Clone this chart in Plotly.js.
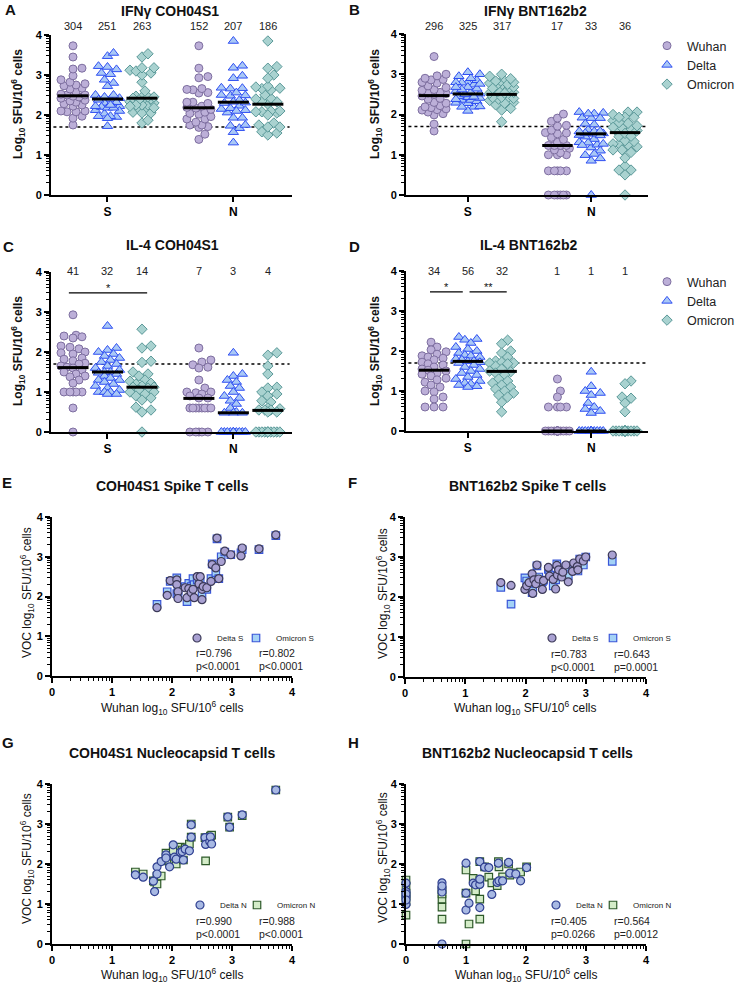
<!DOCTYPE html>
<html>
<head>
<meta charset="utf-8">
<script src="https://cdn.plot.ly/plotly-3.0.1.min.js"></script>
<style>
  html, body { margin: 0; padding: 0; background: #fff; }
  #fig { width: 736px; height: 983px; }
</style>
</head>
<body>
<div id="fig"></div>
<script>
// ---- data: IFNγ, COH04S1 (paired per donor, used by A, E and G) ----
const cohWuhanS   = [1.75,1.92,1.97,2.08,2.08,2.10,2.10,2.22,2.25,2.28,2.32,2.35,2.37,2.42,2.45,2.47,2.50,2.50,2.52,2.58,2.65,2.67,2.73,2.75,2.78,2.82,2.88,2.98,3.15,3.17,3.45,3.73];
const cohDeltaS   = [1.72,2.03,2.40,2.42,2.30,2.12,1.95,2.22,1.97,2.20,2.10,2.18,1.97,2.50,2.32,2.50,1.92,2.18,2.25,2.22,2.38,2.80,2.72,3.47,2.45,2.88,3.14,3.05,3.02,3.22,3.20,3.55];
const cohOmicronS = [1.80,2.12,2.38,2.47,2.07,2.15,2.05,2.25,1.87,2.33,2.25,2.45,2.30,2.42,2.40,2.38,2.05,2.25,2.22,2.18,2.45,2.82,2.60,3.45,2.45,3.00,3.12,3.05,3.10,3.18,3.18,3.53];
const cohWuhanN   = [1.39,1.52,1.69,1.71,1.75,1.75,1.82,1.90,1.90,1.96,2.02,2.04,2.07,2.14,2.17,2.19,2.22,2.29,2.32,2.32,2.55,2.56,2.63,2.64,2.66,2.93,2.96,3.17,3.73];
const cohDeltaN   = [1.73,1.67,1.57,1.31,1.93,1.75,2.06,2.23,2.15,1.93,2.48,2.17,2.12,2.30,2.31,2.10,2.37,2.33,2.98,2.67,2.66,2.49,2.56,2.68,2.50,3.18,2.92,3.23,3.85];
const cohOmicronN = [1.80,1.75,1.58,1.55,1.50,1.70,1.70,2.27,2.08,2.05,2.33,2.10,2.00,2.42,2.35,2.10,2.40,2.50,3.00,2.67,2.66,2.08,2.62,2.70,2.72,3.17,2.92,3.21,3.85];

// ---- data: IFNγ, BNT162b2 (paired per donor, used by B, F and H) ----
const bntWuhanS   = [1.59,1.76,1.99,2.02,2.06,2.11,2.12,2.14,2.17,2.19,2.22,2.28,2.30,2.38,2.40,2.46,2.50,2.52,2.53,2.55,2.60,2.62,2.67,2.71,2.78,2.80,2.86,2.87,2.90,2.96,3.00,3.44];
const bntDeltaS   = [2.36,2.29,2.19,2.28,2.36,2.58,2.09,2.43,2.33,2.80,2.45,2.19,2.41,2.74,2.52,2.44,2.20,2.79,2.55,2.68,2.50,2.62,2.80,2.38,2.64,2.85,2.76,2.68,2.95,2.90,3.00,3.05];
const bntOmicronS = [2.24,1.82,2.48,2.40,2.30,2.11,2.15,2.35,2.40,2.78,2.50,2.38,2.42,2.69,2.55,2.28,2.43,2.83,2.53,2.62,2.58,2.68,2.75,2.53,2.78,2.70,2.83,2.65,2.95,2.80,3.00,2.89];
const bntWuhanN   = [0,0,0,0,0,0,0.6,0.6,0.6,0.6,0.6,1.0,1.0,1.0,1.05,1.12,1.16,1.23,1.23,1.23,1.23,1.31,1.38,1.43,1.52,1.54,1.55,1.61,1.71,1.73,1.83,1.91,2.01];
const bntDeltaN   = [1.52,1.31,1.18,0.99,1.25,1.10,1.53,1.39,0.0,1.30,1.45,2.02,1.27,0.85,1.02,1.52,1.48,2.06,1.49,1.62,0.91,1.92,1.91,1.24,1.54,2.02,1.58,1.58,2.04,1.77,1.75,1.58,1.91];
const bntOmicronN = [1.60,1.27,1.06,0.72,1.45,1.20,1.12,0.92,0.62,1.25,1.35,1.85,1.27,0.0,0.50,1.64,1.33,2.06,1.12,0.62,1.60,1.93,1.67,1.53,1.46,2.06,1.93,1.68,2.00,1.72,1.78,1.80,1.93];

// ---- data: IL-4 ----
const il4CohWuhanS   = [2.93,2.42,2.40,2.38,2.35,2.15,2.12,2.08,2.00,1.98,1.95,1.85,1.82,1.78,1.72,1.70,1.65,1.62,1.60,1.55,1.50,1.45,1.40,1.38,1.30,1.22,1.0,1.0,1.0,1.0,1.0,0.6,0];
const il4CohDeltaS   = [2.65,2.10,2.05,2.00,1.95,1.90,1.85,1.80,1.75,1.70,1.65,1.60,1.55,1.50,1.50,1.48,1.45,1.40,1.35,1.30,1.30,1.25,1.20,1.15,1.10,1.05,1.0,1.0,1.0,0.95,0.95];
const il4CohOmicronS = [2.57,2.15,2.10,1.77,1.74,1.50,1.45,1.40,1.30,1.27,1.22,1.20,1.15,1.12,1.12,1.10,1.05,1.0,1.0,0.95,0.90,0.85,0.80,0.62,0.55,0.50,0];
const il4CohWuhanN   = [2.10,1.80,1.75,1.68,1.62,1.60,1.30,1.10,1.0,1.0,0.98,0.95,0.90,0.85,0.85,0.6,0.6,0.6,0.6,0.6,0.6,0.6,0.6,0,0,0,0,0];
const il4CohDeltaN   = [1.98,1.45,1.40,1.30,1.25,1.15,1.10,1.0,0.90,0.85,0.78,0.70,0.60,0.50,0.48,0.48,0.48,0,0,0,0,0,0,0,0,0,0,0,0];
const il4CohOmicronN = [1.98,1.92,1.65,1.45,1.12,1.10,1.0,0.95,0.90,0.78,0.75,0.60,0.58,0.55,0.55,0.55,0.50,0.50,0,0,0,0,0,0,0,0,0,0,0];
const il4BntWuhanS   = [2.22,2.10,2.03,1.98,1.92,1.88,1.85,1.82,1.78,1.72,1.68,1.65,1.60,1.55,1.52,1.50,1.45,1.42,1.38,1.32,1.28,1.22,1.15,1.10,1.0,0.98,0.85,0.80,0.6,0.6,0.6];
const il4BntDeltaS   = [2.35,2.30,2.28,2.20,2.10,2.05,2.00,1.95,1.90,1.88,1.85,1.80,1.78,1.75,1.74,1.72,1.70,1.65,1.60,1.55,1.50,1.45,1.40,1.35,1.30,1.25,1.20,1.18,1.15,1.12,1.10];
const il4BntOmicronS = [2.27,2.18,2.00,1.95,1.85,1.75,1.72,1.70,1.70,1.68,1.62,1.55,1.50,1.48,1.45,1.40,1.30,1.25,1.20,1.15,1.10,1.05,1.0,0.95,0.90,0.85,0.72,0.48];
const il4BntWuhanN   = [1.30,1.0,0.85,0.6,0.6,0.6,0.6,0,0,0,0,0,0,0,0,0,0,0,0,0,0,0,0,0,0,0];
const il4BntDeltaN   = [1.48,1.12,1.0,0.95,0.90,0.70,0.60,0.55,0.50,0.45,0,0,0,0,0,0,0,0,0,0,0,0,0,0,0,0];
const il4BntOmicronN = [1.25,1.18,0.85,0.82,0.70,0.48,0,0,0,0,0,0,0,0,0,0,0,0,0,0,0,0,0,0,0,0];

// medians (black bars), order: Wuhan S, Delta S, Omicron S, Wuhan N, Delta N, Omicron N
const mediansA = [2.48, 2.40, 2.42, 2.18, 2.32, 2.27];
const mediansB = [2.47, 2.51, 2.50, 1.23, 1.52, 1.55];
const mediansC = [1.61, 1.50, 1.12, 0.84, 0.48, 0.54];
const mediansD = [1.52, 1.74, 1.49, 0, 0, 0];

// numbers printed over the columns
const countsA = [304, 251, 263, 152, 207, 186];
const countsB = [296, 325, 317, 17, 33, 36];
const countsC = [41, 32, 14, 7, 3, 4];
const countsD = [34, 56, 32, 1, 1, 1];

const variants = ['Wuhan', 'Delta', 'Omicron'];
const antigens = ['S', 'N'];
const detectionLimit = 1.7;
const sigLevel = 3.48;

// correlation text for E–H
const statsE = [['r=0.796', 'p&lt;0.0001'], ['r=0.802', 'p&lt;0.0001']];
const statsF = [['r=0.783', 'p&lt;0.0001'], ['r=0.643', 'p=0.0001']];
const statsG = [['r=0.990', 'p&lt;0.0001'], ['r=0.988', 'p&lt;0.0001']];
const statsH = [['r=0.405', 'p=0.0266'], ['r=0.564', 'p=0.0012']];

// ---- styling ----
const W = 736, H = 983;
const FONT = 'Liberation Sans, Arial, Helvetica, sans-serif';
const groupPos = [1, 2, 3, 4.65, 5.65, 6.65];
const dotStyle = [
    { symbol: 'circle',      size: 8, fill: '#bcafd8', edge: '#7d6e9f' },
    { symbol: 'triangle-up', size: 9, fill: '#a9c8f6', edge: '#2f4ff2' },
    { symbol: 'diamond',     size: 8, fill: '#a9d2d0', edge: '#5b9999' }
];
const spikeStyle = [
    { symbol: 'circle', size: 8, fill: '#a9a1d2', edge: '#3c3a58' },
    { symbol: 'square', size: 7.5, fill: '#a4d2f6', edge: '#3a56d8' }
];
const nucStyle = [
    { symbol: 'circle', size: 8, fill: '#a8b9e3', edge: '#2f3f90' },
    { symbol: 'square', size: 7.5, fill: '#d4ecc8', edge: '#2e5a2a' }
];

// minor ticks at log10(2..9) within each decade
const minorVals = [];
for (let d = 0; d < 4; d++) for (let k = 2; k <= 9; k++) minorVals.push(d + Math.log10(k));

const xk = i => i === 1 ? 'xaxis' : 'xaxis' + i;
const yk = i => i === 1 ? 'yaxis' : 'yaxis' + i;
const xr = i => i === 1 ? 'x' : 'x' + i;
const yr = i => i === 1 ? 'y' : 'y' + i;

const dotPanels = [
    { id: 1, letter: 'A', title: 'IFNγ COH04S1', legend: null,
      groups: [cohWuhanS, cohDeltaS, cohOmicronS, cohWuhanN, cohDeltaN, cohOmicronN],
      medians: mediansA, counts: countsA, bars: [],
      px: [51, 292], py: [35, 195], range: [0.362, 7.35], titleAt: [170, 11], letterAt: [10, 10], yTitleAt: [18, 104], countsY: 26 },
    { id: 2, letter: 'B', title: 'IFNγ BNT162b2', legend: 'legend',
      groups: [bntWuhanS, bntDeltaS, bntOmicronS, bntWuhanN, bntDeltaN, bntOmicronN],
      medians: mediansB, counts: countsB, bars: [],
      px: [406, 648], py: [34, 195], range: [0.17, 7.33], titleAt: [535, 11], letterAt: [354, 10], yTitleAt: [375, 104], countsY: 26 },
    { id: 3, letter: 'C', title: 'IL-4 COH04S1', legend: null,
      groups: [il4CohWuhanS, il4CohDeltaS, il4CohOmicronS, il4CohWuhanN, il4CohDeltaN, il4CohOmicronN],
      medians: mediansC, counts: countsC, bars: [{ a: 0, b: 2, text: '*' }],
      px: [51, 292], py: [272, 432], range: [0.362, 7.35], titleAt: [172, 245], letterAt: [8, 247], yTitleAt: [18, 351], countsY: 271 },
    { id: 4, letter: 'D', title: 'IL-4 BNT162b2', legend: 'legend2',
      groups: [il4BntWuhanS, il4BntDeltaS, il4BntOmicronS, il4BntWuhanN, il4BntDeltaN, il4BntOmicronN],
      medians: mediansD, counts: countsD, bars: [{ a: 0, b: 1, text: '*' }, { a: 1, b: 2, text: '**' }],
      px: [406, 648], py: [271, 431], range: [0.17, 7.33], titleAt: [528, 245], letterAt: [354, 247], yTitleAt: [375, 351], countsY: 271 }
];

// each correlation legend entry gets its own small legend box (markerAt = symbol centre)
const corrPanels = [
    { id: 5, letter: 'E', title: 'COH04S1 Spike T cells', legends: ['legend3', 'legend4'], style: spikeStyle,
      x: cohWuhanS, ys: [cohDeltaS, cohOmicronS], names: ['Delta S', 'Omicron S'], stats: statsE,
      px: [52, 292], py: [517, 676], titleAt: [172, 486], letterAt: [7, 483], yTitleAt: [27, 593], xTitleY: 708,
      markerAt: [[197, 638], [256, 638]], statsX: [194, 257] },
    { id: 6, letter: 'F', title: 'BNT162b2 Spike T cells', legends: ['legend5', 'legend6'], style: spikeStyle,
      x: bntWuhanS, ys: [bntDeltaS, bntOmicronS], names: ['Delta S', 'Omicron S'], stats: statsF,
      px: [405, 646], py: [517, 677], titleAt: [527, 486], letterAt: [352, 483], yTitleAt: [383, 593], xTitleY: 708,
      markerAt: [[552, 638], [613, 638]], statsX: [549, 612] },
    { id: 7, letter: 'G', title: 'COH04S1 Nucleocapsid T cells', legends: ['legend7', 'legend8'], style: nucStyle,
      x: cohWuhanN, ys: [cohDeltaN, cohOmicronN], names: ['Delta N', 'Omicron N'], stats: statsG,
      px: [52, 292], py: [784, 944], titleAt: [172, 753], letterAt: [8, 742], yTitleAt: [27, 859], xTitleY: 975,
      markerAt: [[200, 905], [257, 905]], statsX: [194, 257] },
    { id: 8, letter: 'H', title: 'BNT162b2 Nucleocapsid T cells', legends: ['legend9', 'legend10'], style: nucStyle,
      x: bntWuhanN, ys: [bntDeltaN, bntOmicronN], names: ['Delta N', 'Omicron N'], stats: statsH,
      px: [406, 646], py: [784, 944], titleAt: [527, 753], letterAt: [353, 742], yTitleAt: [383, 857], xTitleY: 975,
      markerAt: [[556, 905], [613, 905]], statsX: [549, 612] }
];

// spread the points of one column sideways so they don't sit on top of each other
function swarm(values, center, pxPerX, pxPerY) {
    const order = values.map((v, i) => i).sort((a, b) => values[a] - values[b]);
    const placed = [];
    const xs = new Array(values.length);
    const step = 3, maxOff = 12, gap = 6.5;
    for (const i of order) {
        const y = values[i] * pxPerY;
        let best = 0, bestDist = -1;
        for (let k = 0; k <= 2 * Math.floor(maxOff / step); k++) {
            const off = k === 0 ? 0 : (k % 2 ? 1 : -1) * Math.ceil(k / 2) * step;
            let minD = Infinity;
            for (const p of placed) minD = Math.min(minD, Math.hypot(p.x - off, p.y - y));
            if (minD >= gap) { best = off; break; }
            if (minD > bestDist) { bestDist = minD; best = off; }
        }
        placed.push({ x: best, y: y });
        xs[i] = center + best / pxPerX;
    }
    return xs;
}

const paperX = x => x / W;
const paperY = y => 1 - y / H;

function text(t, x, y, size, extra, weight) {
    return Object.assign({
        text: t, xref: 'paper', yref: 'paper', x: paperX(x), y: paperY(y),
        showarrow: false, xanchor: 'center', yanchor: 'middle',
        font: { family: FONT, size: size, color: '#111', weight: weight || 'normal' }
    }, extra || {});
}

function axisBase() {
    return {
        showline: true, linecolor: 'black', linewidth: 2, mirror: false,
        ticks: 'outside', ticklen: 5, tickwidth: 2, tickcolor: 'black',
        tickfont: { family: FONT, size: 11, color: 'black', weight: 'bold' },
        showgrid: false, zeroline: false, fixedrange: true
    };
}

const traces = [];
const shapes = [];
const annotations = [];
const layout = {
    width: W, height: H,
    // legends sit near the right edge; keep them from pushing the plot areas around
    margin: { l: 0, r: 0, t: 0, b: 0, autoexpand: false },
    paper_bgcolor: '#fff', plot_bgcolor: 'rgba(0,0,0,0)',
    showlegend: true, font: { family: FONT, color: '#111' }
};

// ---- dot plots A–D ----
dotPanels.forEach(p => {
    layout[xk(p.id)] = Object.assign(axisBase(), {
        domain: [paperX(p.px[0]), paperX(p.px[1])], range: p.range, anchor: yr(p.id),
        tickvals: [groupPos[1], groupPos[4]], ticktext: antigens,
        tickfont: { family: FONT, size: 12, color: 'black', weight: 'bold' }
    });
    layout[yk(p.id)] = Object.assign(axisBase(), {
        domain: [paperY(p.py[1]), paperY(p.py[0])], range: [0, 4], anchor: xr(p.id),
        tickvals: [0, 1, 2, 3, 4],
        minor: { tickmode: 'array', tickvals: minorVals, ticks: 'outside', ticklen: 3, tickwidth: 1, tickcolor: 'black' }
    });

    const pxPerX = (p.px[1] - p.px[0]) / (p.range[1] - p.range[0]);
    const pxPerY = (p.py[1] - p.py[0]) / 4;

    variants.forEach((name, v) => {
        const s = dotStyle[v];
        const xs = [], ys = [];
        [v, v + 3].forEach(g => {
            xs.push(...swarm(p.groups[g], groupPos[g], pxPerX, pxPerY));
            ys.push(...p.groups[g]);
        });
        const tr = {
            type: 'scatter', mode: 'markers', name: name, x: xs, y: ys,
            xaxis: xr(p.id), yaxis: yr(p.id), cliponaxis: false,
            marker: { symbol: s.symbol, size: s.size, color: s.fill, line: { color: s.edge, width: 1 } },
            showlegend: !!p.legend, hoverinfo: 'skip'
        };
        if (p.legend) tr.legend = p.legend;
        traces.push(tr);
    });

    // medians
    const mx = [], my = [];
    p.medians.forEach((m, g) => { mx.push(groupPos[g] - 0.45, groupPos[g] + 0.45, null); my.push(m, m, null); });
    traces.push({
        type: 'scatter', mode: 'lines', x: mx, y: my, xaxis: xr(p.id), yaxis: yr(p.id),
        line: { color: 'black', width: 3 }, showlegend: false, hoverinfo: 'skip'
    });

    // limit of detection
    shapes.push({
        type: 'line', xref: xr(p.id) + ' domain', yref: yr(p.id), x0: 0.01, x1: 0.99,
        y0: detectionLimit, y1: detectionLimit, layer: 'below',
        line: { color: 'black', width: 1.5, dash: 'dot' }
    });

    // significance bars
    p.bars.forEach(b => {
        const shareEnd = p.bars.some(o => o !== b && o.a === b.b);
        const shareStart = p.bars.some(o => o !== b && o.b === b.a);
        const x0 = groupPos[b.a] + (shareStart ? 0.05 : -0.12);
        const x1 = groupPos[b.b] + (shareEnd ? -0.15 : 0.15);
        shapes.push({
            type: 'line', xref: xr(p.id), yref: yr(p.id), x0: x0, x1: x1, y0: sigLevel, y1: sigLevel,
            line: { color: 'black', width: 1.2 }
        });
        annotations.push({
            text: b.text, xref: xr(p.id), yref: yr(p.id), x: (x0 + x1) / 2, y: sigLevel,
            yanchor: 'bottom', yshift: -3, showarrow: false, font: { family: FONT, size: 11, color: '#111' }
        });
    });

    p.counts.forEach((c, g) => {
        annotations.push({
            text: String(c), xref: xr(p.id), yref: 'paper', x: groupPos[g], y: paperY(p.countsY),
            showarrow: false, yanchor: 'middle', font: { family: FONT, size: 11, color: '#222' }
        });
    });

    annotations.push(text(p.title, p.titleAt[0], p.titleAt[1], 14, null, 'bold'));
    annotations.push(text(p.letter, p.letterAt[0], p.letterAt[1], 15, null, 'bold'));
    annotations.push(text('Log<sub>10</sub> SFU/10<sup>6</sup> cells', p.yTitleAt[0], p.yTitleAt[1], 12, { textangle: -90 }, 'bold'));
});

// legends for B and D (symbol lands ~20 px right of x)
layout.legend = {
    x: paperX(647), y: paperY(31), xanchor: 'left', yanchor: 'top',
    font: { family: FONT, size: 12.5, color: '#222' }, bgcolor: 'rgba(0,0,0,0)', itemclick: false
};
layout.legend2 = Object.assign({}, layout.legend, { y: paperY(267) });

// ---- correlation plots E–H ----
corrPanels.forEach(p => {
    layout[xk(p.id)] = Object.assign(axisBase(), {
        domain: [paperX(p.px[0]), paperX(p.px[1])], range: [0, 4], anchor: yr(p.id),
        tickvals: [0, 1, 2, 3, 4],
        minor: { tickmode: 'array', tickvals: minorVals, ticks: 'outside', ticklen: 3, tickwidth: 1, tickcolor: 'black' }
    });
    layout[yk(p.id)] = Object.assign(axisBase(), {
        domain: [paperY(p.py[1]), paperY(p.py[0])], range: [0, 4], anchor: xr(p.id),
        tickvals: [0, 1, 2, 3, 4],
        minor: { tickmode: 'array', tickvals: minorVals, ticks: 'outside', ticklen: 3, tickwidth: 1, tickcolor: 'black' }
    });

    // squares first so the circles sit on top
    [1, 0].forEach(k => {
        const s = p.style[k];
        traces.push({
            type: 'scatter', mode: 'markers', name: p.names[k], x: p.x, y: p.ys[k],
            xaxis: xr(p.id), yaxis: yr(p.id), cliponaxis: false, legend: p.legends[k],
            marker: { symbol: s.symbol, size: s.size, color: s.fill, line: { color: s.edge, width: 1.2 } },
            hoverinfo: 'skip'
        });
        // Plotly draws the legend symbol about 20 px right of the legend's left edge
        layout[p.legends[k]] = {
            x: paperX(p.markerAt[k][0] - 20), y: paperY(p.markerAt[k][1]), xanchor: 'left', yanchor: 'middle',
            font: { family: FONT, size: 8, color: '#222' }, bgcolor: 'rgba(0,0,0,0)', itemclick: false
        };
    });

    p.stats.forEach((st, k) => {
        st.forEach((line, j) => {
            annotations.push(text(line, p.statsX[k], p.py[1] - 23 + j * 13, 10.5,
                { xanchor: 'left', font: { family: FONT, size: 10.5, color: '#222' } }));
        });
    });

    annotations.push(text(p.title, p.titleAt[0], p.titleAt[1], 14, null, 'bold'));
    annotations.push(text(p.letter, p.letterAt[0], p.letterAt[1], 15, null, 'bold'));
    annotations.push(text('VOC log<sub>10</sub> SFU/10<sup>6</sup> cells', p.yTitleAt[0], p.yTitleAt[1], 12, { textangle: -90 }));
    annotations.push(text('Wuhan log<sub>10</sub> SFU/10<sup>6</sup> cells', (p.px[0] + p.px[1]) / 2, p.xTitleY, 12));
});

layout.shapes = shapes;
layout.annotations = annotations;

Plotly.newPlot('fig', traces, layout, { displayModeBar: false, staticPlot: true });
</script>
</body>
</html>
